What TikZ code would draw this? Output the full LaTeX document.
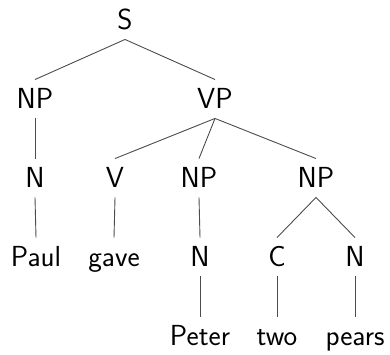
\documentclass[tikz,border=0pt]{standalone}
\usepackage{tikz}
\usetikzlibrary{positioning}
\tikzset{
  cat/.style={font=\fontsize{29}{33}\selectfont\sffamily, text height=19.5pt, text depth=0pt, inner xsep=2pt, inner ysep=9.5pt},
  edge/.style={line width=0.9pt, color=black!70}
}
\begin{document}
\begin{tikzpicture}[x=1pt, y=-1pt]
    \useasboundingbox (0,0) rectangle (390,355);
    % categories
    \node[cat] (s) at (125,20) {S};
    \node[cat] (np1) at (35,99) {NP};
    \node[cat] (vp) at (215,99) {VP};
    \node[cat] (n1) at (35,178) {N};
    \node[cat] (v) at (115,178) {V};
    \node[cat] (np2) at (199,178) {NP};
    \node[cat] (np3) at (316,178) {NP};
    \node[cat] (n2) at (200,257) {N};
    \node[cat] (c) at (277,257) {C};
    \node[cat] (n3) at (355,257) {N};
    % words
    \node[cat] (paul) at (36,257) {Paul};
    \node[cat] (gave) at (114,257) {gave};
    \node[cat] (peter) at (200,336) {Peter};
    \node[cat] (two) at (277,336) {two};
    \node[cat] (pears) at (355,336) {pears};
    % branches
    \draw[edge] (np1.north) -- (s.south) -- (vp.north);
    \draw[edge] (np1.south) -- (n1.north);
    \draw[edge] (n1.south) -- (paul.north);
    \draw[edge] (v.north) -- (vp.south) -- (np3.north);
    \draw[edge] (vp.south) -- (np2.north);
    \draw[edge] (v.south) -- (gave.north);
    \draw[edge] (np2.south) -- (n2.north);
    \draw[edge] (n2.south) -- (peter.north);
    \draw[edge] (c.north) -- (np3.south) -- (n3.north);
    \draw[edge] (c.south) -- (two.north);
    \draw[edge] (n3.south) -- (pears.north);
\end{tikzpicture}
\end{document}
